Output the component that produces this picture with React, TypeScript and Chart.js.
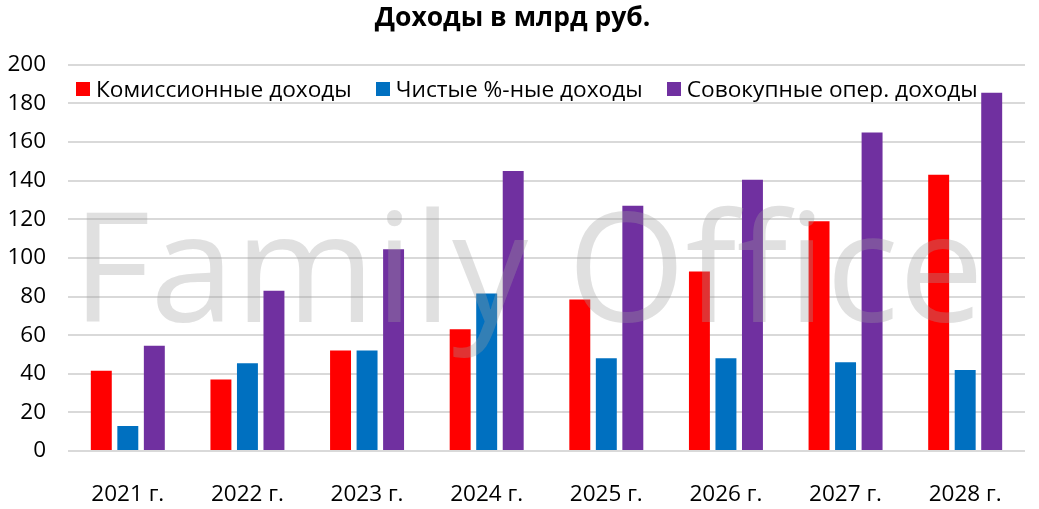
import React, { useEffect, useRef } from "react";
import { Chart, registerables } from "chart.js";
Chart.register(...registerables);

const years = ["2021 г.", "2022 г.", "2023 г.", "2024 г.", "2025 г.", "2026 г.", "2027 г.", "2028 г."];
const commissionIncome = [41.5, 37, 52, 63, 78.5, 93, 119, 143];
const netInterestIncome = [13, 45.5, 52, 81.5, 48, 48, 46, 42];
const totalOperIncome = [54.5, 83, 104.5, 145, 127, 140.5, 165, 185.5];

const seriesNames = ["Комиссионные доходы", "Чистые %-ные доходы", "Совокупные опер. доходы"];
const seriesColors = ["#ff0000", "#0070c0", "#7030a0"];

const fontFamily = "'Open Sans', sans-serif";

// watermark drawn over the bars, like in the source picture
const watermarkPlugin = {
  id: "watermark",
  afterDatasetsDraw(chart: any) {
    const { ctx } = chart;
    const text = "Family Office";
    const targetWidth = 912;
    ctx.save();
    ctx.font = `100px ${fontFamily}`;
    const w = ctx.measureText(text).width;
    const size = (100 * targetWidth) / w;
    ctx.font = `${size}px ${fontFamily}`;
    ctx.fillStyle = "rgba(160,160,160,0.32)";
    ctx.textBaseline = "alphabetic";
    ctx.textAlign = "left";
    ctx.fillText(text, 72, 322);
    ctx.restore();
  },
};

export default function App() {
  const canvasRef = useRef<HTMLCanvasElement | null>(null);

  useEffect(() => {
    document.body.style.margin = "0";
    if (!canvasRef.current) return;
    const ctx = canvasRef.current.getContext("2d");
    if (!ctx) return;

    const data = [commissionIncome, netInterestIncome, totalOperIncome];
    const chart = new Chart(ctx, {
      type: "bar",
      data: {
        labels: years,
        datasets: data.map((values, idx) => ({
          label: seriesNames[idx],
          data: values,
          backgroundColor: seriesColors[idx],
          categoryPercentage: 0.665,
          barPercentage: 0.79,
        })),
      },
      plugins: [watermarkPlugin],
      options: {
        animation: false,
        responsive: false,
        layout: { padding: { right: 14, bottom: 0, left: 0, top: 0 } },
        plugins: {
          legend: { display: false },
          tooltip: { enabled: false },
          title: {
            display: true,
            text: "Доходы в млрд руб.",
            color: "#000",
            font: { family: fontFamily, size: 26.5, weight: "bold" },
            padding: { top: 3, bottom: 30 },
          },
        },
        scales: {
          x: {
            afterFit: (scale: any) => {
              scale.height = 58;
            },
            grid: { display: false },
            border: { display: false },
            ticks: {
              color: "#000",
              font: { family: fontFamily, size: 22.5 },
              padding: 22,
              maxRotation: 0,
            },
          },
          y: {
            min: 0,
            max: 200,
            afterFit: (scale: any) => {
              scale.width = 68;
            },
            grid: { color: "#d9d9d9", lineWidth: 2, drawTicks: false },
            border: { display: false },
            ticks: {
              stepSize: 20,
              color: "#000",
              font: { family: fontFamily, size: 22.5 },
              padding: 22,
            },
          },
        },
      },
    });

    return () => chart.destroy();
  }, []);

  return (
    <div style={{ position: "relative", width: 1039, height: 509, background: "#fff" }}>
      <canvas ref={canvasRef} width={1039} height={509} style={{ display: "block" }} />
      <div
        style={{
          position: "absolute",
          top: 74,
          left: 76,
          display: "flex",
          fontFamily,
          fontSize: 22.7,
          lineHeight: "30px",
          color: "#000",
          whiteSpace: "nowrap",
        }}
      >
        {seriesNames.map((name, idx) => (
          <div key={name} style={{ display: "flex", alignItems: "center", marginRight: idx < 2 ? 24 : 0 }}>
            <span
              style={{
                display: "inline-block",
                width: 14,
                height: 14,
                background: seriesColors[idx],
                marginRight: 6,
              }}
            />
            <span>{name}</span>
          </div>
        ))}
      </div>
    </div>
  );
}
